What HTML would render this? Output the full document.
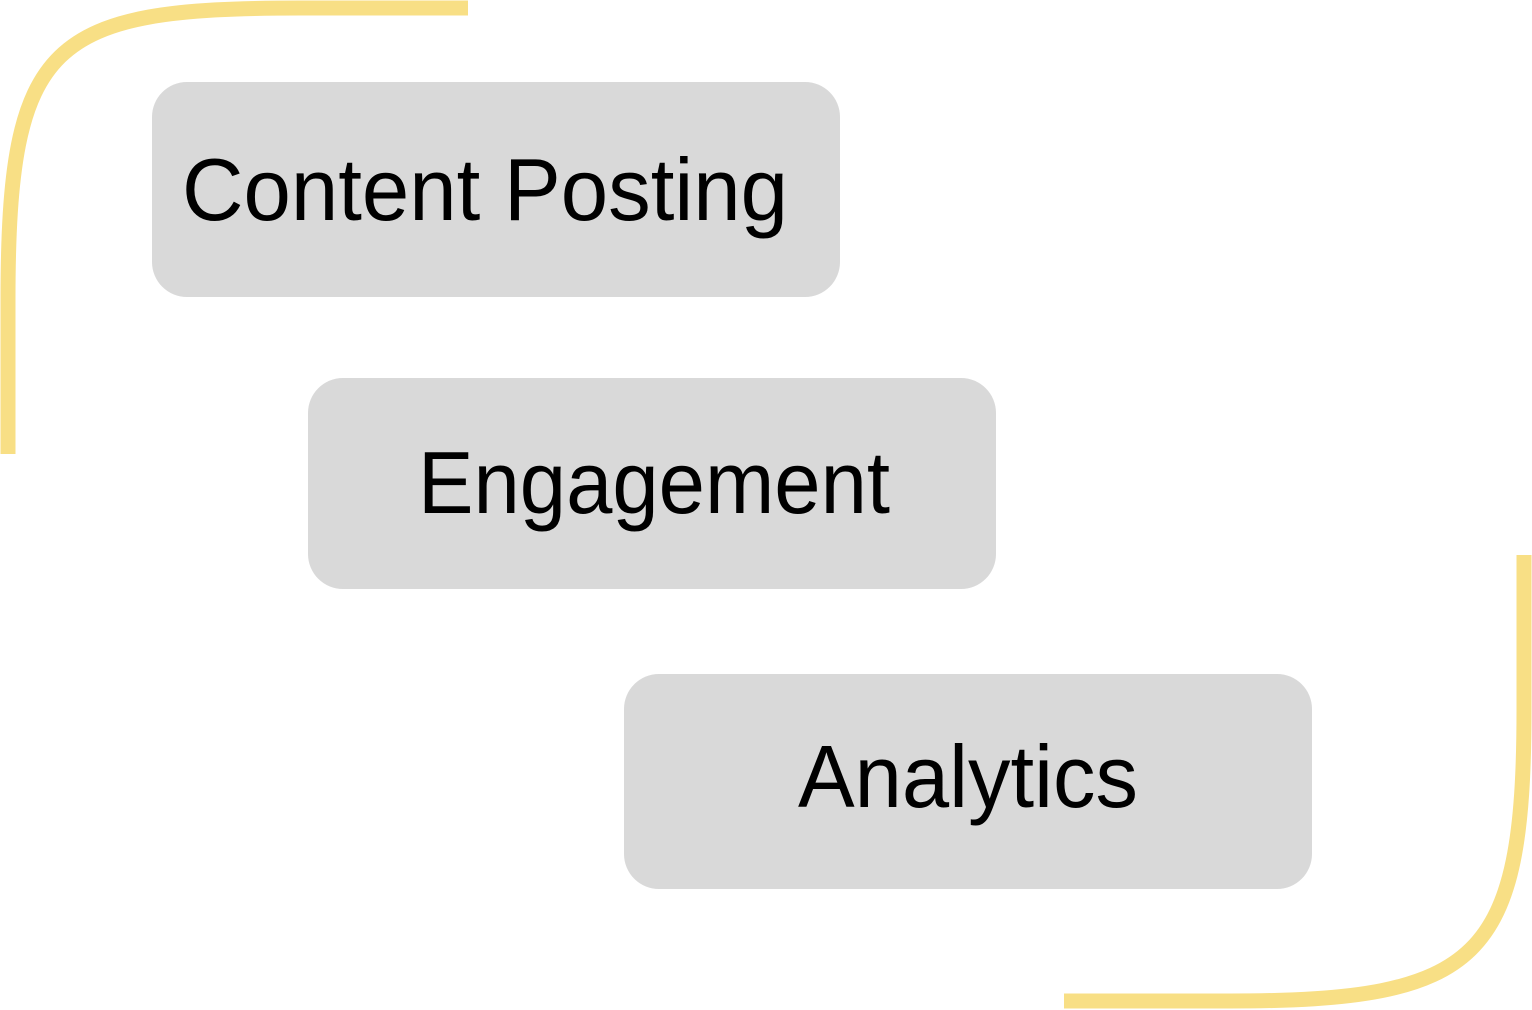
<!DOCTYPE html>
<html><head><meta charset="utf-8"><style>html,body{margin:0;padding:0;background:#fff}svg{display:block}</style></head>
<body>
<svg width="1532" height="1010" viewBox="0 0 1532 1010" xmlns="http://www.w3.org/2000/svg">
<path d="M468,8 H300 C50,8 8,40 8,300 V454" fill="none" stroke="#f8df85" stroke-width="15"/>
<path d="M1524,555 V710 C1524,960 1480,1001 1230,1001 H1064" fill="none" stroke="#f8df85" stroke-width="15"/>
<rect x="152" y="82" width="688" height="215" rx="35" fill="#d9d9d9"/>
<rect x="308" y="378" width="688" height="211" rx="35" fill="#d9d9d9"/>
<rect x="624" y="674" width="688" height="215" rx="35" fill="#d9d9d9"/>
<g font-family="Liberation Sans, sans-serif" font-size="88" fill="#000">
<text x="182" y="220" textLength="606" lengthAdjust="spacingAndGlyphs">Content Posting</text>
<text x="418" y="513" textLength="472" lengthAdjust="spacingAndGlyphs">Engagement</text>
<text x="798" y="807" textLength="340" lengthAdjust="spacingAndGlyphs">Analytics</text>
</g>
</svg>
</body></html>
